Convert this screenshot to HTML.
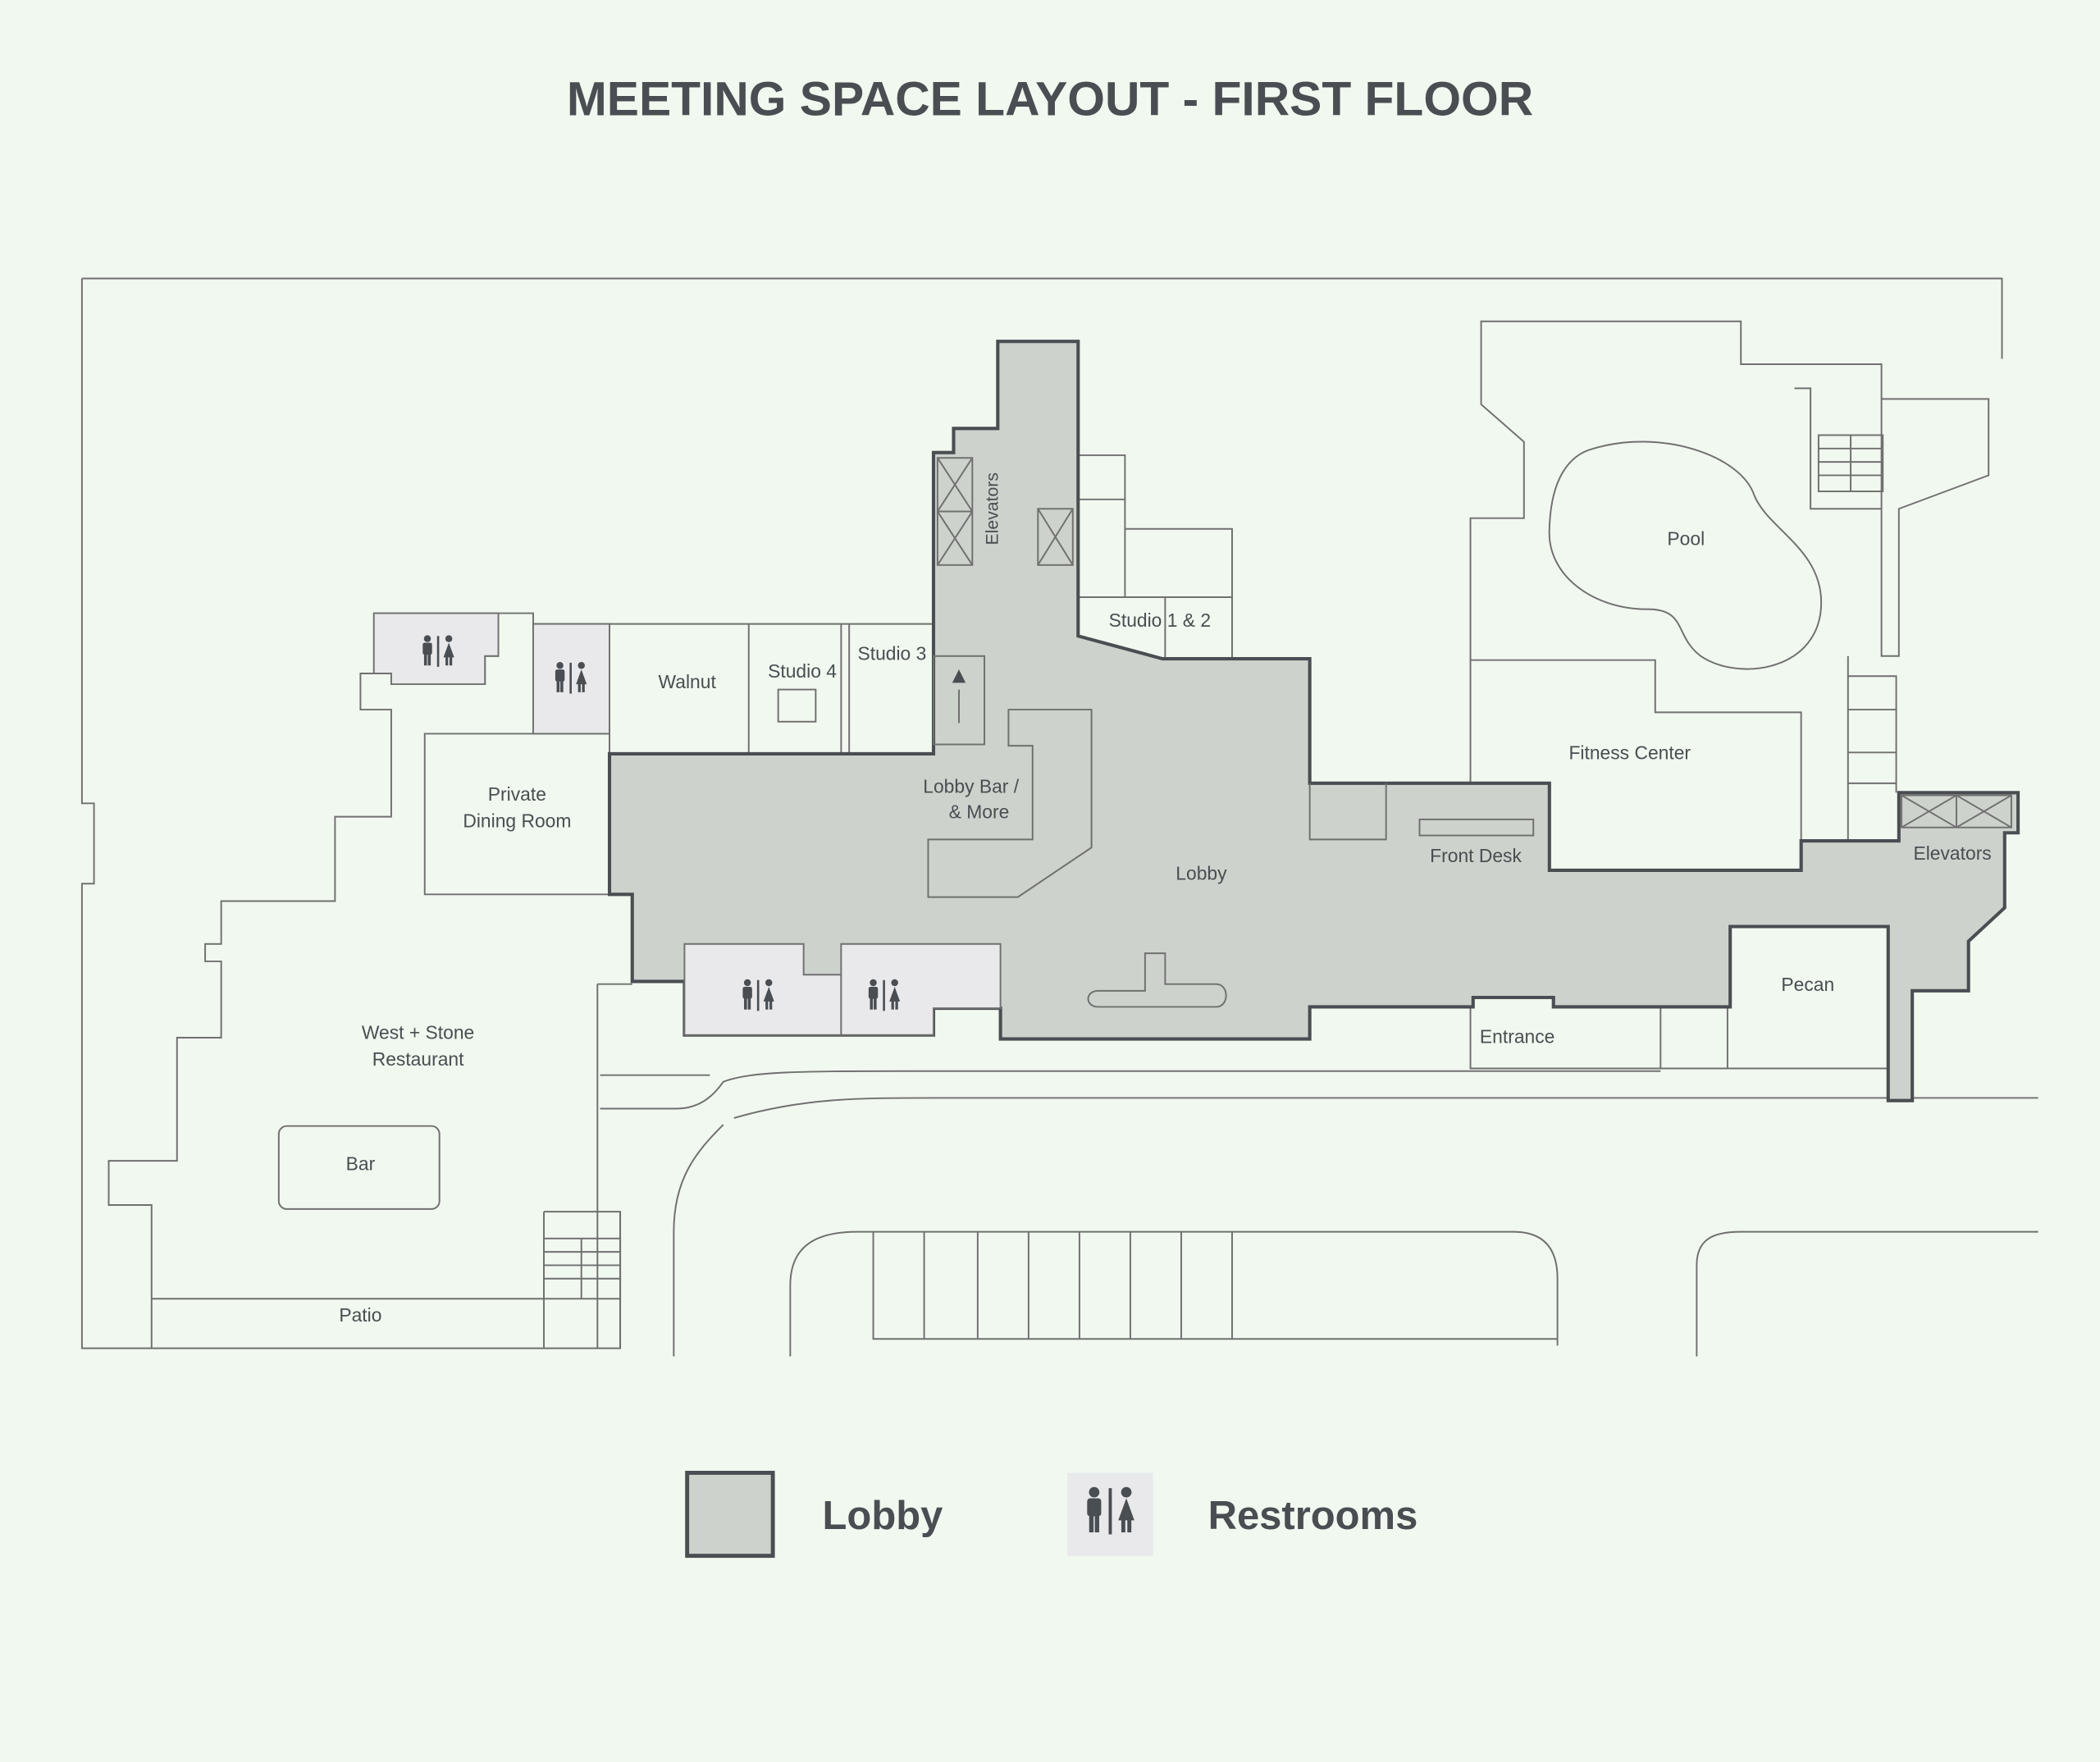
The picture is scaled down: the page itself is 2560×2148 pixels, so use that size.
<!DOCTYPE html>
<html><head><meta charset="utf-8"><style>
html,body{margin:0;padding:0;background:#f1f8ef;}
svg{display:block}
text{font-family:"Liberation Sans",sans-serif;fill:#4a4e52}
</style></head><body>
<svg width="2560" height="2148" viewBox="0 0 1568 1316" xmlns="http://www.w3.org/2000/svg">
<defs>
<g id="rr" fill="#4a4e52">
<circle cx="-8" cy="-11" r="2.6"/><rect x="-11.5" y="-8" width="7" height="9" rx="1.5"/><rect x="-10.5" y="0" width="2.2" height="9"/><rect x="-7.7" y="0" width="2.2" height="9"/>
<rect x="-0.8" y="-13" width="1.6" height="23"/>
<circle cx="8" cy="-11" r="2.6"/><path d="M8,-8 L12,3 L4,3 Z"/><rect x="5.5" y="2" width="2" height="7"/><rect x="8.5" y="2" width="2" height="7"/>
</g>
</defs>
<rect width="1568" height="1316" fill="#f1f8ef"/>
<text x="784" y="86" text-anchor="middle" font-size="36" font-weight="bold" fill="#4a4e52">MEETING SPACE LAYOUT - FIRST FLOOR</text>

<g fill="none" stroke="#707070" stroke-width="1.2">
<path d="M61,208 L1495,208 L1495,268 M61,208 L61,600 L70,600 L70,660 L61,660 L61,1007 L463,1007 L463,905"/>
<path d="M113,1007 L113,900 L81,900 L81,867 L132,867 L132,775 L165,775 L165,718 L153,718 L153,705 L165,705 L165,673 L250,673 L250,610 L292,610 L292,530 L269,530 L269,503 L292,503 L292,460 L279,460"/>
<path d="M113,970 L406,970 M406,905 L463,905 L463,1007 M406,905 L406,1007"/>
<path d="M446,735 L472,735 M446,735 L446,1007"/>
<rect x="208" y="841" width="120" height="62" rx="6"/>
<path d="M317,548 L455,548 L455,668 L317,668 Z"/>
<path d="M279,458 L372,458 L372,490 L362,490 L362,511 L292,511 M372,458 L398,458 L398,548 M398,466 L455,466 M455,466 L697,466 M559,466 L559,563 M628,466 L628,563 M634,466 L634,563"/>
<rect x="581" y="515" width="28" height="24"/>
<path d="M805,340 L840,340 L840,373 L805,373 M840,373 L840,446 L920,446 L920,492 M840,395 L920,395 L920,446 M805,446 L840,446 M870,446 L870,492"/>
<path d="M1098,585 L1098,387 L1138,387 L1138,330 L1106,302 L1106,240 L1300,240 L1300,272 L1405,272 L1405,298 L1485,298 L1485,355 L1418,380 L1418,490 L1405,490 L1405,380 L1352,380 L1352,290 L1340,290 M1405,272 L1405,380"/>
<path d="M1098,493 L1236,493 L1236,532 L1345,532 L1345,650 M1345,628 L1345,532"/>
<path d="M1380,490 L1380,585 L1416,585 L1416,505 L1380,505 M1380,530 L1416,530 M1380,562 L1416,562 M1416,562 L1416,592"/>
<path d="M1380,585 L1380,628"/>
<path d="M1157,585 L1098,585"/>
<path d="M1240,752 L1240,798 L1410,798 M1290,752 L1290,798"/>
<path d="M1098,752 L1098,798 L1240,798"/>
<path d="M1190,335 C1240,320 1300,340 1310,370 C1320,395 1360,410 1360,450 C1360,500 1300,510 1270,490 C1250,475 1260,455 1230,455 C1190,455 1155,430 1157,395 C1158,360 1170,340 1190,335 Z"/>
<rect x="1358" y="325" width="48" height="42"/>
<path d="M1358,335 L1406,335 M1358,345 L1406,345 M1358,355 L1406,355 M1382,325 L1382,367"/>
<path d="M448,803 L530,803 M448,828 L505,828 C525,828 535,815 540,808 C560,800 600,800 680,800 L1240,800 M1410,820 L1522,820 M540,840 C520,860 503,880 503,920 L503,1013 M548,835 C600,820 640,820 700,820 L1410,820"/>
<path d="M590,1013 L590,960 C590,930 610,920 640,920 L1130,920 C1155,920 1163,935 1163,955 L1163,1005 M652,920 L652,1000 L1163,1000 M690,920 L690,1000 M730,920 L730,1000 M768,920 L768,1000 M806,920 L806,1000 M844,920 L844,1000 M882,920 L882,1000 M920,920 L920,1000 M1267,1013 L1267,945 C1267,925 1280,920 1300,920 L1522,920"/>
<rect x="406" y="925" width="57" height="45"/>
<path d="M406,935 L463,935 M406,945 L463,945 M406,955 L463,955 M434,925 L434,970"/>
</g>

<path d="M745,255 L805,255 L805,475 L868,492 L978,492 L978,585 L1035,585 L1157,585 L1157,650 L1345,650 L1345,628 L1418,628 L1418,592 L1507,592 L1507,622 L1497,622 L1497,678 L1470,703 L1470,740 L1428,740 L1428,822 L1410,822 L1410,692 L1292,692 L1292,752 L1160,752 L1160,745 L1100,745 L1100,752 L978,752 L978,776 L747,776 L747,753 L697,753 L697,773 L511,773 L511,733 L472,733 L472,668 L455,668 L455,563 L697,563 L697,338 L712,338 L712,320 L745,320 Z" fill="#cdd2cc" stroke="#4a4e52" stroke-width="2.5"/>
<g fill="none" stroke="#707070" stroke-width="1.2">
<path d="M978,585 L978,627 L1035,627 L1035,585"/>
<rect x="1060" y="612" width="85" height="12"/>
<path d="M753,530 L815,530 L815,633 L760,670 L693,670 L693,627 L771,627 L771,557 L753,557 Z"/>
<rect x="700" y="342" width="26" height="80"/><path d="M700,382 L726,382 M700,342 L726,382 M726,342 L700,382 M700,382 L726,422 M726,382 L700,422"/>
<rect x="775" y="380" width="26" height="42"/><path d="M775,380 L801,422 M801,380 L775,422"/>
<rect x="697" y="490" width="38" height="66"/>
<path d="M716,515 L716,540"/>
<path d="M825,740 L855,740 L855,712 L870,712 L870,735 L908,735 C918,735 918,752 908,752 L820,752 C810,752 810,740 820,740 Z"/>
<rect x="1420" y="594" width="82" height="24"/><path d="M1461,594 L1461,618 M1420,594 L1461,618 M1461,594 L1420,618 M1461,594 L1502,618 M1502,594 L1461,618"/>
</g>
<path d="M716,500 L711,510 L721,510 Z" fill="#4a4e52"/>
<g fill="#e9e9ec" stroke="#707070" stroke-width="1.2">
<path d="M279,458 L372,458 L372,490 L362,490 L362,511 L292,511 L292,503 L279,503 Z"/>
<rect x="398" y="466" width="57" height="82"/>
<path d="M511,705 L600,705 L600,728 L628,728 L628,773 L511,773 Z"/>
<path d="M628,705 L747,705 L747,753 L697,753 L697,773 L628,773 Z"/>
</g>
<use href="#rr" x="327" y="488"/>
<use href="#rr" x="426" y="508"/>
<use href="#rr" x="566" y="745"/>
<use href="#rr" x="660" y="745"/>
<g font-size="14" text-anchor="middle">
<text x="745" y="380" transform="rotate(-90 745 380)" font-size="13">Elevators</text>
<text x="866" y="468">Studio 1 &amp; 2</text>
<text x="513" y="514">Walnut</text>
<text x="599" y="506">Studio 4</text>
<text x="666" y="493">Studio 3</text>
<text x="725" y="592">Lobby Bar /</text>
<text x="731" y="611">&amp; More</text>
<text x="386" y="598">Private</text>
<text x="386" y="618">Dining Room</text>
<text x="897" y="657">Lobby</text>
<text x="1102" y="644">Front Desk</text>
<text x="1217" y="567">Fitness Center</text>
<text x="1259" y="407">Pool</text>
<text x="1458" y="642">Elevators</text>
<text x="1350" y="740">Pecan</text>
<text x="1133" y="779">Entrance</text>
<text x="312" y="776">West + Stone</text>
<text x="312" y="796">Restaurant</text>
<text x="269" y="874">Bar</text>
<text x="269" y="987">Patio</text>
</g>
<rect x="513" y="1100" width="64" height="62" fill="#cdd2cc" stroke="#4a4e52" stroke-width="3"/>
<text x="614" y="1142" font-size="30" font-weight="bold">Lobby</text>
<rect x="797" y="1100" width="64" height="62" fill="#e9e9ec"/>
<use href="#rr" transform="translate(829,1131) scale(1.5)"/>
<text x="902" y="1142" font-size="30" font-weight="bold">Restrooms</text>
</svg>
</body></html>
